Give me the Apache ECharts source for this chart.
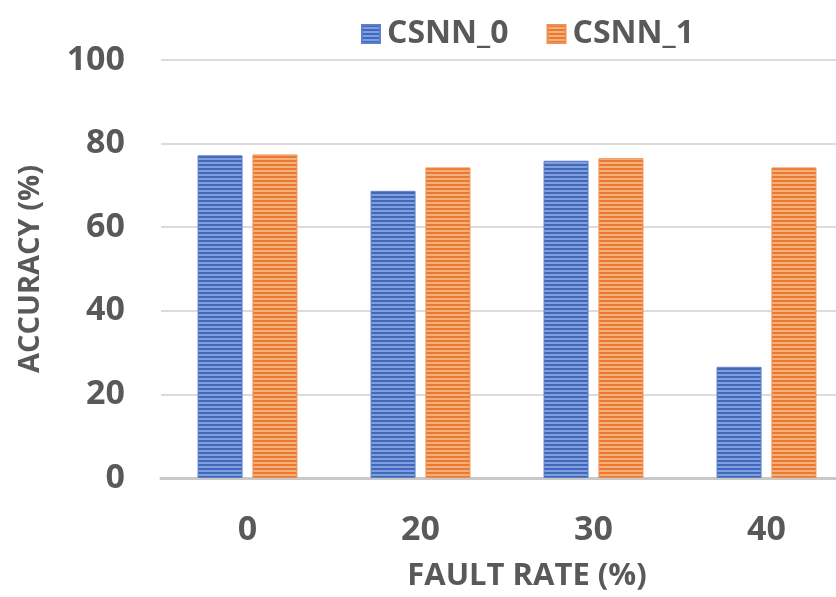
<!DOCTYPE html>
<html><head><meta charset="utf-8">
<script src="https://cdn.jsdelivr.net/npm/echarts@6/dist/echarts.min.js"></script>
<style>html,body{margin:0;padding:0;background:#fff}#c{width:836px;height:597px}</style>
</head><body><div id="c"></div>
<script>
var categories = ['0', '20', '30', '40'];
var csnn0 = [77.2, 68.7, 75.9, 26.6];
var csnn1 = [77.4, 74.3, 76.5, 74.3];
var seriesNames = ['CSNN_0', 'CSNN_1'];
var yTicks = {min: 0, max: 100, interval: 20};

function stripe(dark, light) {
  var c = document.createElement('canvas');
  c.width = 4; c.height = 4;
  var g = c.getContext('2d');
  g.fillStyle = light; g.fillRect(0, 0, 4, 4);
  g.fillStyle = dark; g.fillRect(0, 0, 4, 2);
  return {image: c, repeat: 'repeat'};
}
var blueFill = stripe('#4468b8', '#7f9fe0');
var orangeFill = stripe('#ea7a33', '#f6b07a');
var font = '"Open Sans", sans-serif';
var gray = '#595959';

var chart = echarts.init(document.getElementById('c'));
chart.setOption({
  animation: false,
  legend: {
    top: 13, left: 356,
    icon: 'rect',
    itemWidth: 18, itemHeight: 18, itemGap: 38,
    textStyle: {fontFamily: font, fontWeight: 'bold', fontSize: 32, color: gray, padding: [0, 0, 0, 2]},
    data: seriesNames
  },
  grid: {left: 161, width: 692, top: 60, height: 418, containLabel: false, outerBoundsMode: 'none'},
  xAxis: {
    type: 'category', data: categories,
    axisLine: {lineStyle: {color: '#c8c8c8', width: 3}},
    axisTick: {show: false},
    axisLabel: {fontFamily: font, fontWeight: 'bold', fontSize: 34, color: gray, margin: 35},
    name: 'FAULT RATE (%)', nameLocation: 'middle', nameGap: 83,
    nameTextStyle: {fontFamily: font, fontWeight: 'bold', fontSize: 31, color: gray, padding: [0, 0, 0, 40]}
  },
  yAxis: {
    type: 'value', min: yTicks.min, max: yTicks.max, interval: yTicks.interval,
    axisLine: {show: false}, axisTick: {show: false},
    splitLine: {lineStyle: {color: '#dcdcdc', width: 2}},
    axisLabel: {fontFamily: font, fontWeight: 'bold', fontSize: 34, color: gray, margin: 36},
    name: 'ACCURACY (%)', nameLocation: 'middle', nameGap: 116,
    nameTextStyle: {fontFamily: font, fontWeight: 'bold', fontSize: 29, color: gray}
  },
  series: [
    {name: seriesNames[0], type: 'bar', data: csnn0, barWidth: 45, barGap: '22%',
     itemStyle: {color: blueFill, borderColor: '#5a7fcb', borderWidth: 1}},
    {name: seriesNames[1], type: 'bar', data: csnn1, barWidth: 45,
     itemStyle: {color: orangeFill, borderColor: '#ef9050', borderWidth: 1}}
  ]
});
</script></body></html>
